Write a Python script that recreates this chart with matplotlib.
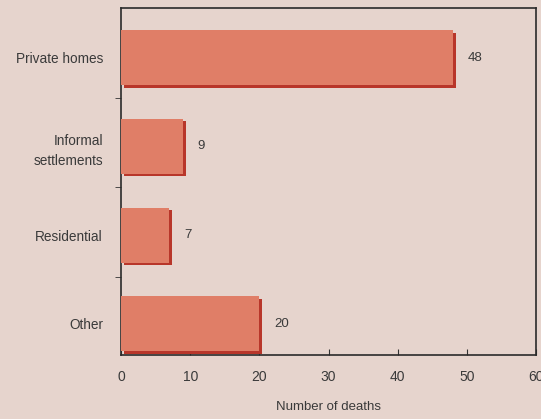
import matplotlib
matplotlib.use("Agg")
import matplotlib.pyplot as plt
import matplotlib.transforms as mtransforms

categories = ["Private homes", "Informal\nsettlements", "Residential", "Other"]
values = [48, 9, 7, 20]
xticks = [0, 10, 20, 30, 40, 50, 60]

bg = "#e6d4cd"
bar_col = "#e07e67"
shadow_col = "#b8362a"
txt = "#3a3a3a"

plt.rcParams['font.family'] = ['Liberation Sans', 'DejaVu Sans']

fig = plt.figure(figsize=(5.41, 4.19), dpi=100, facecolor=bg)
ax = fig.add_axes([0.2237, 0.1527, 0.7671, 0.8283], facecolor=bg)

ypos = list(range(len(categories)))
shadow_tr = mtransforms.offset_copy(ax.transData, fig=fig, x=3, y=-2.5, units='dots')
ax.barh(ypos, values, height=0.62, color=shadow_col, transform=shadow_tr, zorder=2)
ax.barh(ypos, values, height=0.62, color=bar_col, zorder=3)

for y, v in zip(ypos, values):
    ax.text(v + 2.1, y, str(v), va='center', ha='left', fontsize=9.5, color=txt)

ax.set_xlim(0, 60)
ax.set_ylim(3.35, -0.56)
ax.set_xticks(xticks)
ax.set_xticklabels([str(t) for t in xticks], fontsize=10, color=txt)
ax.set_yticks(ypos)
ax.set_yticklabels(categories, fontsize=9.8, color=txt, linespacing=1.55)
ax.tick_params(axis='y', length=0, pad=13)
ax.set_yticks([0.45, 1.46, 2.47], minor=True)
ax.tick_params(axis='y', which='minor', length=4, direction='out', color='#333333')
ax.tick_params(axis='x', length=4, direction='in', color='#333333', pad=11)
ax.set_xlabel("Number of deaths", fontsize=9.5, color=txt, labelpad=12)

for s in ax.spines.values():
    s.set_color('#2a2a2a')
    s.set_linewidth(1.2)

fig.savefig("out.png", dpi=100, facecolor=bg)
